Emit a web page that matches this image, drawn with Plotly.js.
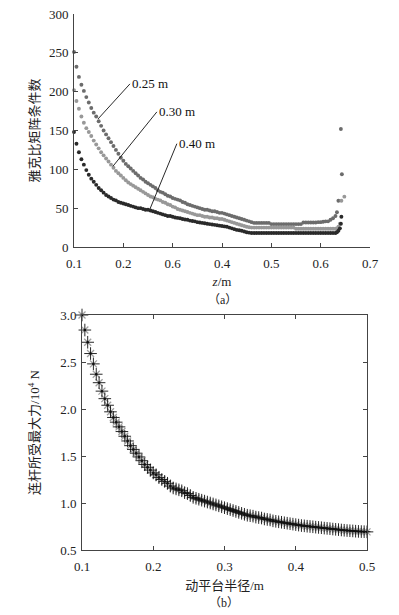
<!DOCTYPE html>
<html><head><meta charset="utf-8">
<script src="https://cdn.plot.ly/plotly-3.0.1.min.js"></script>
<style>html,body{margin:0;padding:0;background:#fff;}</style>
</head><body><div id="chart" style="width:399px;height:615px;"></div>
<script>
// Panel (a): condition number vs z for three radii
var zA = [0.100,0.105,0.110,0.115,0.120,0.125,0.130,0.135,0.140,0.145,0.150,0.155,0.160,0.165,0.170,0.175,0.180,0.185,0.190,0.195,
0.200,0.205,0.210,0.215,0.220,0.225,0.230,0.235,0.240,0.245,0.250,0.255,0.260,0.265,0.270,0.275,0.280,0.285,0.290,0.295,
0.300,0.305,0.310,0.315,0.320,0.325,0.330,0.335,0.340,0.345,0.350,0.355,0.360,0.365,0.370,0.375,0.380,0.385,0.390,0.395,
0.400,0.405,0.410,0.415,0.420,0.425,0.430,0.435,0.440,0.445,0.450,0.455,0.460,0.465,0.470,0.475,0.480,0.485,0.490,0.495,
0.500,0.505,0.510,0.515,0.520,0.525,0.530,0.535,0.540,0.545,0.550,0.555,0.560,0.565,0.570,0.575,0.580,0.585,0.590,0.595,
0.600,0.605,0.610,0.615,0.620,0.625,0.630];
var cond025 = [251,232,219,209,201,193,186,179,173,168,162,156,150,145,140,135,130,125,120,115,
111,107,104,101,98,95,92,89,87,84,82,80,78,76,73,71,70,68,66,65,
63,62,61,60,58,57,55,54,53,52,51,50,49,48,48,47,46,46,45,44,
44,43,42,41,40,39,38,37,36,35,34,33,32,31,31,31,31,31,31,31,
29.5,29.5,29.5,29.5,29.5,29.5,29.5,29.5,29.5,29.5,29.5,29.5,29.5,31.5,31.5,31.5,31.5,31.5,31.5,32,
32,32.5,33,33,35,37,40];
var cond030 = [202,188,178,168,160,153,148,143,137,132,127,122,118,114,110,106,102,98,95,92,
89,86,83,81,79,77,75,73,71,69,67,65,64,62,61,60,58,57,55,54,
52,51,49,48,47,46,45,44,43,42,41,41,40,39,39,38,38,37,37,36,
36,35,34,33,32,31,30,29,28,27,26,25.5,25,25,25,25,25,25,25,25,
25,25,25,25,25,25,25,25,25,25,23.5,23.5,23.5,23.5,23.5,23.5,23.5,23.5,23.5,23.5,
23.5,23.5,23.5,23.5,23.5,23.5,23.5];
var cond040 = [148,133,122,113,106,99,93,88,84,80,76,73,70,67,65,63,61,60,58,57,
56,55,54,53,52,51,50,50,49,48,48,47,46,45,44,43,42,41,40,40,
39,38,37.5,37,36,35.5,35,34,33.5,33,32,31.5,31,30.5,30,29.5,29,28.5,28,27.5,
27,26.5,26,25,24,23,22,21.5,21,20,19,18.5,18,18,18,18,18,18,18,18,
18,18,18,18,18,18,18,18,18,18,18,18,18,18,18,18,18,18,18,18,
18,18,18,18,18,18,18];
// end points where the condition number blows up
var zEnd025 = [0.633,0.636,0.641,0.643];
var condEnd025 = [44.7,59.6,152,93.6];
var zEnd030 = [0.633,0.636,0.639,0.642,0.648];
var condEnd030 = [24,26,30,59.6,64.8];
var zEnd040 = [0.633,0.636,0.639,0.641,0.642];
var condEnd040 = [19,21,24,30,39];
var xTickValsA = [0.1,0.2,0.3,0.4,0.5,0.6,0.7];
var xTickTextA = ["0.1","0.2","0.6","0.4","0.5","0.6","0.7"];
var seriesNames = ["0.25 m","0.30 m","0.40 m"];

// Panel (b): max link force vs platform radius
var rB = [0.100,0.104,0.108,0.112,0.116,0.120,0.124,0.128,0.132,0.136,0.140,0.144,0.148,0.152,0.156,0.160,0.164,0.168,0.172,0.176,
0.180,0.184,0.188,0.192,0.196,0.200,0.204,0.208,0.212,0.216,0.220,0.224,0.228,0.232,0.236,0.240,0.244,0.248,0.252,0.256,
0.260,0.264,0.268,0.272,0.276,0.280,0.284,0.288,0.292,0.296,0.300,0.304,0.308,0.312,0.316,0.320,0.324,0.328,0.332,0.336,
0.340,0.344,0.348,0.352,0.356,0.360,0.364,0.368,0.372,0.376,0.380,0.384,0.388,0.392,0.396,0.400,0.404,0.408,0.412,0.416,
0.420,0.424,0.428,0.432,0.436,0.440,0.444,0.448,0.452,0.456,0.460,0.464,0.468,0.472,0.476,0.480,0.484,0.488,0.492,0.496,0.500];
var forceB = [3.00,2.84,2.71,2.59,2.48,2.37,2.28,2.19,2.11,2.04,1.97,1.91,1.86,1.81,1.76,1.71,1.66,1.61,1.57,1.53,
1.49,1.45,1.41,1.38,1.35,1.32,1.30,1.27,1.25,1.23,1.21,1.18,1.16,1.15,1.14,1.13,1.11,1.10,1.08,1.06,
1.05,1.04,1.03,1.02,1.01,1.00,0.99,0.98,0.97,0.96,0.95,0.94,0.93,0.92,0.91,0.90,0.89,0.88,0.87,0.865,
0.86,0.85,0.845,0.84,0.83,0.825,0.82,0.81,0.805,0.80,0.795,0.79,0.785,0.78,0.775,0.77,0.765,0.76,0.757,0.753,
0.75,0.747,0.743,0.74,0.737,0.733,0.73,0.727,0.723,0.72,0.717,0.713,0.71,0.707,0.705,0.703,0.70,0.698,0.696,0.695,0.693];

var FONT = "'Liberation Serif', 'Times New Roman', 'Noto Sans CJK SC', serif";
var colA = ["#6c6c6c","#989898","#2a2a2a"];

function dots(x, y, c, name) {
  return {x: x, y: y, type: "scatter", mode: "markers", name: name, xaxis: "x", yaxis: "y", cliponaxis: false,
    marker: {size: 3.9, color: c, line: {width: 0}}, showlegend: false, hoverinfo: "x+y"};
}
var traces = [
  dots(zA, cond025, colA[0], seriesNames[0]),
  dots(zEnd025, condEnd025, colA[0], seriesNames[0]),
  dots(zA, cond030, colA[1], seriesNames[1]),
  dots(zEnd030, condEnd030, colA[1], seriesNames[1]),
  dots(zA, cond040, colA[2], seriesNames[2]),
  dots(zEnd040, condEnd040, colA[2], seriesNames[2]),
  {x: rB, y: forceB, type: "scatter", mode: "markers", xaxis: "x2", yaxis: "y2", showlegend: false, cliponaxis: false,
    marker: {symbol: "x-thin-open", size: 7, color: "#a0a0a0", line: {width: 1.3, color: "#a0a0a0"}}},
  {x: rB, y: forceB, type: "scatter", mode: "markers", xaxis: "x2", yaxis: "y2", showlegend: false, cliponaxis: false,
    marker: {symbol: "cross-thin-open", size: 9, color: "#111", line: {width: 0.9, color: "#111"}}},
  {x: rB, y: forceB, type: "scatter", mode: "markers", xaxis: "x2", yaxis: "y2", showlegend: false, cliponaxis: false,
    marker: {symbol: "circle", size: 2.5, color: "#111"}}
];

function leader(text, tipX, tipY, tailX, tailY) {
  return {x: tipX, y: tipY, ax: tailX, ay: tailY, xref: "x", yref: "y", axref: "x", ayref: "y",
    text: text, showarrow: true, arrowhead: 0, arrowwidth: 0.9, arrowcolor: "#111", standoff: 0,
    xanchor: "left", yanchor: "middle", font: {family: FONT, size: 13, color: "#111"}};
}

var axBase = {showgrid: false, zeroline: false, showline: true, linecolor: "#444", linewidth: 1,
  ticks: "inside", ticklen: 4, tickcolor: "#444", tickfont: {family: FONT, size: 13, color: "#222"}};

var layout = {
  width: 399, height: 615, margin: {l: 0, r: 0, t: 0, b: 0},
  paper_bgcolor: "#ffffff", plot_bgcolor: "rgba(0,0,0,0)",
  font: {family: FONT, color: "#222"},
  xaxis: Object.assign({}, axBase, {domain: [74/399, 370/399], range: [0.1, 0.7], anchor: "y",
    tickmode: "array", tickvals: xTickValsA, ticktext: xTickTextA, ticklabelstandoff: 4,
    title: {text: "<i>z</i>/m", font: {family: FONT, size: 13, color: "#222"}, standoff: 7}}),
  yaxis: Object.assign({}, axBase, {domain: [1 - 247/615, 1 - 14/615], range: [0, 300], anchor: "x",
    tickvals: [0,50,100,150,200,250,300], ticklabelstandoff: 2,
    title: {text: "雅克比矩阵条件数", font: {family: FONT, size: 13, color: "#222"}, standoff: 6}}),
  xaxis2: Object.assign({}, axBase, {domain: [82/399, 367/399], range: [0.1, 0.5], anchor: "y2",
    mirror: "ticks", tickvals: [0.1,0.2,0.3,0.4,0.5], ticklabelstandoff: 4,
    title: {text: "动平台半径/m", font: {family: FONT, size: 13, color: "#222"}, standoff: 8}}),
  yaxis2: Object.assign({}, axBase, {domain: [1 - 550/615, 1 - 315/615], range: [0.5, 3.0], anchor: "x2",
    mirror: "ticks", tickvals: [0.5,1.0,1.5,2.0,2.5,3.0], tickformat: ".1f", ticklabelstandoff: 2,
    title: {text: "连杆所受最大力/10<sup>4</sup> N", font: {family: FONT, size: 13, color: "#222"}, standoff: 17}}),
  annotations: [
    leader(seriesNames[0], 0.1486, 164.8, 0.2134, 210),
    leader(seriesNames[1], 0.179, 104, 0.268, 174),
    leader(seriesNames[2], 0.254, 49, 0.3085, 133),
    {text: "（a）", xref: "paper", yref: "paper", x: 222/399, y: 1 - 300/615, showarrow: false,
      xanchor: "center", yanchor: "middle", font: {family: FONT, size: 12, color: "#222"}},
    {text: "（b）", xref: "paper", yref: "paper", x: 224/399, y: 1 - 603/615, showarrow: false,
      xanchor: "center", yanchor: "middle", font: {family: FONT, size: 12, color: "#222"}}
  ]
};

Plotly.newPlot("chart", traces, layout, {displayModeBar: false, staticPlot: true});
</script></body></html>
